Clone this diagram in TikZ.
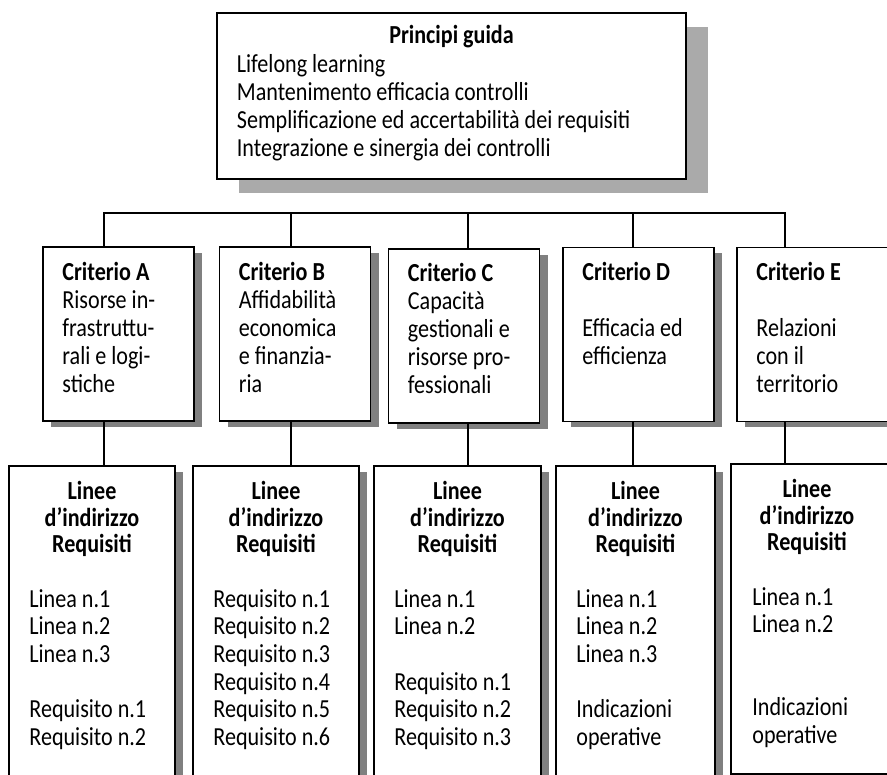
\documentclass[tikz,border=0pt]{standalone}
\usepackage{fontspec}
\setmainfont[FakeStretch=0.85]{Carlito}
\usetikzlibrary{shadows,calc}
\definecolor{shlight}{RGB}{170,170,170}
\definecolor{shdark}{RGB}{128,128,128}
\newcommand\tabL[1]{\begin{tabular}[t]{@{}l@{}}#1\end{tabular}}
\newcommand\tabC[1]{\begin{tabular}[t]{@{}c@{}}#1\end{tabular}}
\begin{document}
\begin{tikzpicture}[x=1pt,y=-1pt,
  conn/.style={line width=1.6pt},
  topbox/.style={draw, line width=2.6pt, fill=white, inner sep=0pt,
    minimum width=469pt, minimum height=166pt,
    drop shadow={shadow xshift=22pt, shadow yshift=-14pt, fill=shlight, opacity=1}},
  critbox/.style={draw, line width=1.6pt, fill=white, inner sep=0pt,
    minimum width=151pt, minimum height=174pt,
    drop shadow={shadow xshift=8pt, shadow yshift=-6pt, fill=shdark, opacity=1}},
  reqbox/.style={draw, line width=1.6pt, fill=white, inner sep=0pt,
    minimum height=334pt,
    drop shadow={shadow xshift=8pt, shadow yshift=-6pt, fill=shdark, opacity=1}},
  ttop/.style={inner sep=0pt, font=\fontsize{26}{28}\selectfont},
  tcrit/.style={inner sep=0pt, font=\fontsize{26}{28}\selectfont, anchor=base west},
  thead/.style={inner sep=0pt, font=\fontsize{26}{26.6}\selectfont\bfseries, anchor=base},
  tbody/.style={inner sep=0pt, font=\fontsize{26}{27.7}\selectfont, anchor=base west}]
\useasboundingbox (0,0) rectangle (887,775);

% top box
\node[topbox] (top) at (451.5,96) {};
\node[ttop, anchor=base] (topT) at ($(top.north)+(0,32)$) {\textbf{Principi guida}};
\node[ttop, anchor=base west] (topL) at ($(top.north west)+(21,61)$)
  {\tabL{Lifelong learning\\Mantenimento efficacia controlli\\Semplificazione ed accertabilità dei requisiti\\Integrazione e sinergia dei controlli}};

% criteria boxes
\node[critbox] (cA) at (118.5,334) {};
\node[critbox] (cB) at (295,334) {};
\node[critbox] (cC) at (464,336) {};
\node[critbox] (cD) at (638.5,334.5) {};
\node[critbox, minimum width=158pt] (cE) at (816,334.5) {};

\node[tcrit] (tA) at ($(cA.north west)+(20,34)$) {\tabL{\textbf{Criterio A}\\Risorse in-\\frastruttu-\\rali e logi-\\stiche}};
\node[tcrit] (tB) at ($(cB.north west)+(20,34)$) {\tabL{\textbf{Criterio B}\\Affidabilità\\economica\\e finanzia-\\ria}};
\node[tcrit] (tC) at ($(cC.north west)+(20,33)$) {\tabL{\textbf{Criterio C}\\Capacità\\gestionali e\\risorse pro-\\fessionali}};
\node[tcrit] (tD) at ($(cD.north west)+(20,34)$) {\tabL{\textbf{Criterio D}\\ \\Efficacia ed\\efficienza}};
\node[tcrit] (tE) at ($(cE.north west)+(20,34)$) {\tabL{\textbf{Criterio E}\\ \\Relazioni\\con il\\territorio}};

% requirement boxes
\node[reqbox, minimum width=166pt] (rA) at (92,633) {};
\node[reqbox, minimum width=166pt] (rB) at (276,633) {};
\node[reqbox, minimum width=167pt] (rC) at (457.5,633) {};
\node[reqbox, minimum width=159pt] (rD) at (635.5,633) {};
\node[reqbox, minimum width=166pt, minimum height=310pt] (rE) at (814,619) {};

\node[thead] (hA) at ($(rA.north)+(0,34)$) {\tabC{Linee\\d’indirizzo\\Requisiti}};
\node[thead] (hB) at ($(rB.north)+(0,34)$) {\tabC{Linee\\d’indirizzo\\Requisiti}};
\node[thead] (hC) at ($(rC.north)+(0,34)$) {\tabC{Linee\\d’indirizzo\\Requisiti}};
\node[thead] (hD) at ($(rD.north)+(0,34)$) {\tabC{Linee\\d’indirizzo\\Requisiti}};
\node[thead] (hE) at ($(rE.north)+(-7,34)$) {\tabC{Linee\\d’indirizzo\\Requisiti}};

\node[tbody] (lA) at ($(rA.north west)+(21,142)$) {\tabL{Linea n.1\\Linea n.2\\Linea n.3\\ \\Requisito n.1\\Requisito n.2}};
\node[tbody] (lB) at ($(rB.north west)+(21,142)$) {\tabL{Requisito n.1\\Requisito n.2\\Requisito n.3\\Requisito n.4\\Requisito n.5\\Requisito n.6}};
\node[tbody] (lC) at ($(rC.north west)+(21,142)$) {\tabL{Linea n.1\\Linea n.2\\ \\Requisito n.1\\Requisito n.2\\Requisito n.3}};
\node[tbody] (lD) at ($(rD.north west)+(21,142)$) {\tabL{Linea n.1\\Linea n.2\\Linea n.3\\ \\Indicazioni\\operative}};
\node[tbody] (lE) at ($(rE.north west)+(22,142)$) {\tabL{Linea n.1\\Linea n.2\\ \\ \\Indicazioni\\operative}};

% connectors
\coordinate (b1) at (104,213);
\coordinate (b2) at (291,213);
\coordinate (b3) at (468,213);
\coordinate (b4) at (633,213);
\coordinate (b5) at (785,213);
\draw[conn] (cA.north -| b1) -- (b1) -- (b5) -- (cE.north -| b5);
\draw[conn] (b2) -- (cB.north -| b2);
\draw[conn] (b3) -- (cC.north -| b3);
\draw[conn] (b4) -- (cD.north -| b4);
\draw[conn] (cA.south -| b1) -- (rA.north -| b1);
\draw[conn] (cB.south -| b2) -- (rB.north -| b2);
\draw[conn] (cC.south -| b3) -- (rC.north -| b3);
\draw[conn] (cD.south -| b4) -- (rD.north -| b4);
\draw[conn] (cE.south -| b5) -- (rE.north -| b5);
\end{tikzpicture}
\end{document}
